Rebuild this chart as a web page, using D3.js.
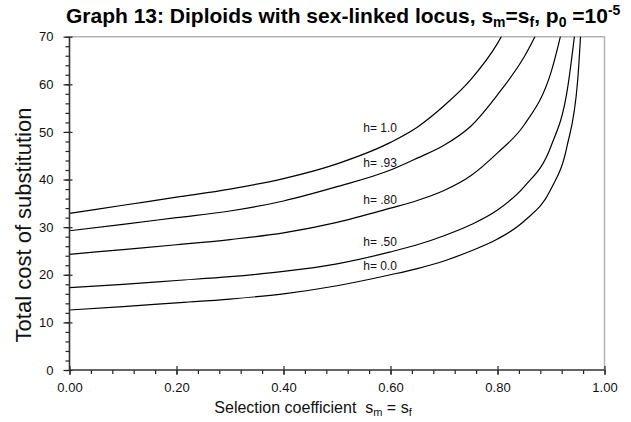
<!DOCTYPE html>
<html>
<head>
<meta charset="utf-8">
<script src="https://cdn.jsdelivr.net/npm/d3@7"></script>
<style>
  html, body { margin: 0; padding: 0; background: #fff; }
  svg { display: block; font-family: "Liberation Sans", Arial, sans-serif; }
</style>
</head>
<body>
<svg id="chart" width="631" height="422"></svg>
<script>
// Selection coefficient grid (s_m = s_f)
const sValues = [0, 0.1, 0.2, 0.3, 0.4, 0.5, 0.6, 0.65, 0.7, 0.75, 0.8, 0.85, 0.9, 0.93, 0.95, 0.96];

// Total cost of substitution for each dominance h (null = beyond the top of the chart)
const costH100 = [32.9, 34.6, 36.3, 38.0, 40.2, 43.3, 47.8, 51.0, 55.5, 61.0, 68.6, 80.0, null, null, null, null];
const costH093 = [29.25, 30.6, 32.0, 33.4, 35.5, 38.5, 42.0, 44.5, 47.2, 51.2, 57.8, 65.8, 77.0, null, null, null];
const costH080 = [24.3, 25.3, 26.3, 27.4, 28.8, 31.0, 34.0, 35.6, 37.7, 40.8, 45.6, 51.5, 62.5, 76.0, null, null];
const costH050 = [17.3, 18.0, 18.8, 19.6, 20.7, 22.3, 24.8, 26.3, 28.2, 30.5, 33.6, 38.5, 47.0, 58.5, 76.0, null];
const costH000 = [12.6, 13.3, 14.1, 14.9, 16.0, 17.7, 20.0, 21.3, 22.9, 25.0, 27.5, 31.3, 38.0, 47.0, 61.0, 80.0];

const seriesNames = ["h= 1.0", "h= .93", "h= .80", "h= .50", "h= 0.0"];
const seriesValues = [costH100, costH093, costH080, costH050, costH000];

// Curve labels: anchor (s, cost) of each label's baseline start
const labelS = [0.549, 0.549, 0.549, 0.549, 0.549];
const labelCost = [50.0, 42.7, 34.9, 26.1, 21.0];

// Axis ticks
const xMajorTicks = [0, 0.2, 0.4, 0.6, 0.8, 1.0];
const xMinorTicks = d3.range(0, 1.0001, 0.04);
const yMajorTicks = [0, 10, 20, 30, 40, 50, 60, 70];
const yMinorTicks = d3.range(0, 70.001, 2);

const svg = d3.select("#chart");
const plot = { left: 69.5, right: 604.5, top: 36.7, bottom: 370 };

const x = d3.scaleLinear().domain([0, 1]).range([plot.left, plot.right]);
const y = d3.scaleLinear().domain([0, 70]).range([plot.bottom, plot.top]);

// Light frame on the top and right sides of the plot
svg.append("path")
  .attr("d", `M${plot.left},${plot.top}H${plot.right}V${plot.bottom}`)
  .attr("fill", "none")
  .attr("stroke", "#b4b4b4")
  .attr("stroke-width", 1.5);

svg.append("defs").append("clipPath").attr("id", "plot-clip")
  .append("rect")
  .attr("x", plot.left).attr("y", plot.top)
  .attr("width", plot.right - plot.left).attr("height", plot.bottom - plot.top);

// Curves
const line = d3.line()
  .defined(d => d[1] != null)
  .x(d => x(d[0]))
  .y(d => y(d[1]))
  .curve(d3.curveMonotoneX);

const curves = svg.append("g").attr("clip-path", "url(#plot-clip)");
seriesValues.forEach(vals => {
  const pts = sValues.map((s, i) => [s, vals[i]]).filter(d => d[1] != null);
  curves.append("path")
    .attr("d", line(pts))
    .attr("fill", "none")
    .attr("stroke", "#000")
    .attr("stroke-width", 1.2);
});

// Curve labels
seriesNames.forEach((name, i) => {
  svg.append("text")
    .attr("x", x(labelS[i]))
    .attr("y", y(labelCost[i]))
    .attr("font-size", 12)
    .attr("fill", "#111")
    .text(name);
});

// Axis styling helper
function styleAxis(g, showText) {
  g.select(".domain").remove();
  g.selectAll(".tick line").attr("stroke", "#222").attr("stroke-width", 1.2);
  g.selectAll(".tick text")
    .attr("font-size", 13)
    .attr("font-family", "Liberation Sans, Arial, sans-serif")
    .attr("fill", "#111");
  if (!showText) g.selectAll(".tick text").remove();
}

// X axis: minor ticks outside, major ticks crossing the axis
svg.append("g").attr("transform", `translate(0,${plot.bottom})`)
  .call(d3.axisBottom(x).tickValues(xMinorTicks).tickSize(4).tickFormat(""))
  .call(g => styleAxis(g, false));
svg.append("g").attr("transform", `translate(0,${plot.bottom})`)
  .call(d3.axisBottom(x).tickValues(xMajorTicks).tickSize(-4).tickFormat(""))
  .call(g => styleAxis(g, false));
svg.append("g").attr("transform", `translate(0,${plot.bottom})`)
  .call(d3.axisBottom(x).tickValues(xMajorTicks).tickSize(5).tickPadding(8).tickFormat(d3.format(".2f")))
  .call(g => styleAxis(g, true));

// Y axis
svg.append("g").attr("transform", `translate(${plot.left},0)`)
  .call(d3.axisLeft(y).tickValues(yMinorTicks).tickSize(4).tickFormat(""))
  .call(g => styleAxis(g, false));
svg.append("g").attr("transform", `translate(${plot.left},0)`)
  .call(d3.axisLeft(y).tickValues(yMajorTicks).tickSize(-3).tickFormat(""))
  .call(g => styleAxis(g, false));
svg.append("g").attr("transform", `translate(${plot.left},0)`)
  .call(d3.axisLeft(y).tickValues(yMajorTicks).tickSize(6).tickPadding(10).tickFormat(d3.format("d")))
  .call(g => styleAxis(g, true));

// Axis lines
svg.append("line")
  .attr("x1", plot.left).attr("x2", plot.right)
  .attr("y1", plot.bottom).attr("y2", plot.bottom)
  .attr("stroke", "#333").attr("stroke-width", 1.6);
svg.append("line")
  .attr("x1", plot.left).attr("x2", plot.left)
  .attr("y1", plot.top).attr("y2", plot.bottom)
  .attr("stroke", "#333").attr("stroke-width", 1.6);

// Title
const title = svg.append("text")
  .attr("x", 66).attr("y", 23)
  .attr("font-size", 21).attr("font-weight", "bold").attr("fill", "#000");
title.append("tspan").text("Graph 13: Diploids with sex-linked locus, s");
title.append("tspan").attr("font-size", 14).attr("dy", 4).text("m");
title.append("tspan").attr("dy", -4).text("=s");
title.append("tspan").attr("font-size", 14).attr("dy", 4).text("f");
title.append("tspan").attr("dy", -4).text(", p");
title.append("tspan").attr("font-size", 14).attr("dy", 4).text("0");
title.append("tspan").attr("dy", -4).text(" =10");
title.append("tspan").attr("font-size", 14).attr("dy", -8).text("-5");

// X axis title
const xTitle = svg.append("text")
  .attr("x", 313).attr("y", 413)
  .attr("text-anchor", "middle")
  .attr("font-size", 16).attr("fill", "#111");
xTitle.append("tspan").text("Selection coefficient\u00a0\u00a0s");
xTitle.append("tspan").attr("font-size", 11).attr("dy", 3).text("m");
xTitle.append("tspan").attr("dy", -3).text(" = s");
xTitle.append("tspan").attr("font-size", 11).attr("dy", 3).text("f");

// Y axis title
svg.append("text")
  .attr("transform", "translate(31,225) rotate(-90)")
  .attr("text-anchor", "middle")
  .attr("font-size", 22).attr("fill", "#111")
  .text("Total cost of substitution");
</script>
</body>
</html>
